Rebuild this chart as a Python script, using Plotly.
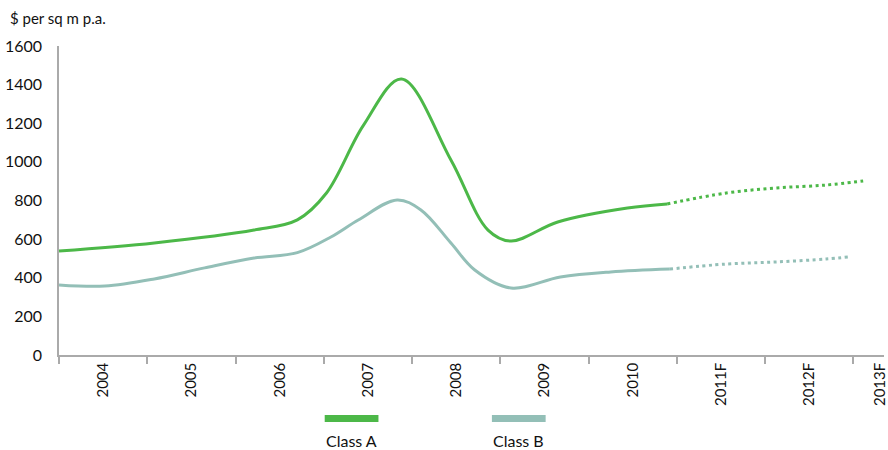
import plotly.graph_objects as go

# Category labels and their axis positions (year units, boundaries at integers)
tick_labels = ["2004", "2005", "2006", "2007", "2008", "2009", "2010", "2011F", "2012F", "2013F"]
tick_pos = [2004.5, 2005.5, 2006.5, 2007.5, 2008.5, 2009.5, 2010.5, 2011.5, 2012.5, 2013.3]
boundaries = [2004, 2005, 2006, 2007, 2008, 2009, 2010, 2011, 2012, 2013]

# Class A actual
a_x = [2004.00, 2005.08, 2006.21, 2006.70, 2007.03, 2007.45, 2007.88,
       2008.44, 2008.86, 2009.12, 2009.65, 2010.44, 2010.89]
a_y = [538, 580, 647, 700, 839, 1190, 1429,
       1010, 647, 590, 689, 761, 782]
# Class A forecast
af_x = [2010.89, 2011.56, 2012.13, 2012.69, 2013.11]
af_y = [782, 839, 865, 880, 901]

# Class B actual
b_x = [2004.00, 2004.52, 2005.08, 2005.65, 2006.21, 2006.70, 2007.08, 2007.39,
       2007.83, 2008.10, 2008.44, 2008.71, 2009.12, 2009.68, 2010.25, 2010.92]
b_y = [363, 357, 394, 451, 502, 530, 611, 699,
       803, 751, 580, 440, 347, 404, 430, 445]
# Class B forecast
bf_x = [2010.92, 2011.56, 2012.13, 2012.69, 2012.95]
bf_y = [445, 471, 482, 497, 508]

GREEN = "#4cb848"
TEAL = "#93bfb7"
FONT = "Lato"

fig = go.Figure()
fig.add_trace(go.Scatter(x=a_x, y=a_y, mode="lines", name="Class A",
                         line=dict(color=GREEN, width=3, shape="spline", smoothing=1.0)))
fig.add_trace(go.Scatter(x=af_x, y=af_y, mode="lines", showlegend=False,
                         line=dict(color=GREEN, width=3, shape="spline", dash="3px,3.5px")))
fig.add_trace(go.Scatter(x=b_x, y=b_y, mode="lines", name="Class B",
                         line=dict(color=TEAL, width=3, shape="spline", smoothing=1.0)))
fig.add_trace(go.Scatter(x=bf_x, y=bf_y, mode="lines", showlegend=False,
                         line=dict(color=TEAL, width=3, shape="spline", dash="3px,3.5px")))

fig.update_layout(
    width=888, height=450,
    margin=dict(l=59, r=0, t=46, b=95),
    plot_bgcolor="white", paper_bgcolor="white",
    showlegend=False,
    font=dict(family=FONT, size=15, color="#111"),
    xaxis=dict(
        range=[2004, 2013.346], showgrid=False, zeroline=False,
        showline=True, linecolor="#aaa", linewidth=1.5,
        tickmode="array", tickvals=tick_pos, ticktext=tick_labels,
        tickangle=-90, ticks="", ticklen=0, ticklabeloverflow="allow",
        tickfont=dict(family=FONT, size=15, color="#111"),
        minor=dict(tickmode="array", tickvals=boundaries, ticks="outside",
                   ticklen=7, tickcolor="#aaa", tickwidth=1.5, showgrid=False),
    ),
    yaxis=dict(
        range=[0, 1600], showgrid=False, zeroline=False,
        showline=True, linecolor="#aaa", linewidth=1.5,
        tickmode="array", tickvals=[0, 200, 400, 600, 800, 1000, 1200, 1400, 1600],
        ticks="outside", ticklen=12, tickcolor="rgba(0,0,0,0)",
        tickfont=dict(family=FONT, size=16, color="#111"),
    ),
)

fig.add_annotation(text="$ per sq m p.a.", xref="paper", yref="paper",
                   x=-51/829, y=1 + 28/309, xanchor="left", yanchor="middle",
                   showarrow=False, font=dict(family=FONT, size=15, color="#111"))

# Custom legend: bar with text beneath
for name, color, x0, x1 in [("Class A", GREEN, 326, 380), ("Class B", TEAL, 494, 548)]:
    fig.add_shape(type="rect", xref="paper", yref="paper",
                  x0=(x0 - 59) / 829, x1=(x1 - 59) / 829,
                  y0=-(415 - 355) / 309, y1=-(422 - 355) / 309,
                  line=dict(width=0), fillcolor=color)
    fig.add_annotation(text=name, xref="paper", yref="paper",
                       x=((x0 + x1) / 2 - 59) / 829, y=-(440 - 355) / 309,
                       xanchor="center", yanchor="middle", showarrow=False,
                       font=dict(family=FONT, size=16, color="#111"))

fig.write_html("out.html")
